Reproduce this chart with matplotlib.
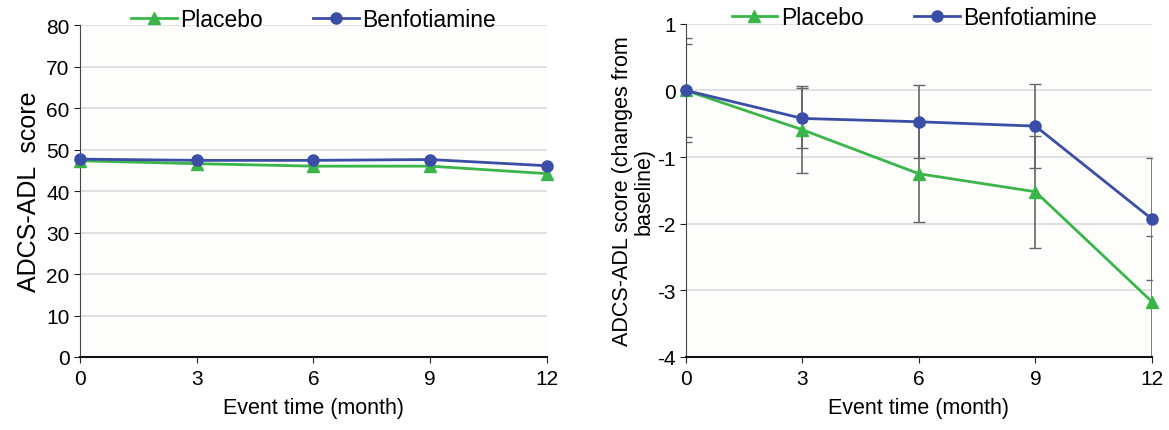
import matplotlib
matplotlib.use("Agg")
import matplotlib.pyplot as plt
import numpy as np

plt.rcParams['font.family'] = ['Liberation Sans', 'DejaVu Sans']
plt.rcParams['axes.unicode_minus'] = False

months = [0, 3, 6, 9, 12]

# absolute ADCS-ADL score
placebo_abs = [47.3, 46.6, 46.0, 46.0, 44.2]
benfo_abs = [47.7, 47.4, 47.4, 47.6, 46.1]

# change from baseline, with error bars
placebo_chg = [0.0, -0.59, -1.25, -1.52, -3.17]
placebo_err = [0.78, 0.65, 0.73, 0.84, 0.99]
benfo_chg = [0.0, -0.42, -0.47, -0.535, -1.93]
benfo_err = [0.70, 0.45, 0.55, 0.63, 0.91]

green = '#3bb54a'
blue = '#3b4ea6'
grid_c = '#dcdcdc'

fig = plt.figure(figsize=(11.69, 4.31), dpi=100)
ax1 = fig.add_axes([0.0684, 0.1694, 0.3995, 0.770])
ax2 = fig.add_axes([0.5868, 0.1694, 0.3986, 0.773])


def style(ax):
    ax.set_facecolor('#fdfdfb')
    ax.spines['top'].set_visible(False)
    ax.spines['right'].set_visible(False)
    ax.spines['left'].set_color('#444444')
    ax.spines['bottom'].set_color('#111111')
    ax.spines['bottom'].set_linewidth(1.5)
    ax.set_xlim(0, 12)
    ax.set_xticks(months)
    ax.tick_params(axis='both', labelsize=15, direction='out', length=4, color='#222222')
    ax.tick_params(axis='x', pad=5)
    ax.set_xlabel('Event time (month)', fontsize=15.5, labelpad=6)
    ax.yaxis.grid(True, color=grid_c, linewidth=1.2)
    ax.set_axisbelow(True)


leg_kw = dict(loc='upper center', ncol=2, frameon=False, fontsize=16.5,
              handlelength=2.0, handletextpad=0.15, columnspacing=2.2)

# left panel
style(ax1)
ax1.set_ylim(0, 80)
ax1.set_yticks(range(0, 81, 10))
ax1.plot(months, placebo_abs, color=green, lw=2, marker='^', ms=8, label='Placebo', clip_on=False, zorder=3)
ax1.plot(months, benfo_abs, color=blue, lw=2, marker='o', ms=8, label='Benfotiamine', clip_on=False, zorder=4)
ax1.set_ylabel('ADCS-ADL  score', fontsize=18, labelpad=4)
ax1.legend(bbox_to_anchor=(0.50, 1.115), **leg_kw)

# right panel
style(ax2)
ax2.set_ylim(-4, 1)
ax2.set_yticks(range(-4, 2))
ax2.errorbar(months, placebo_chg, yerr=placebo_err, fmt='none', ecolor='#666666',
             elinewidth=1.2, capsize=4, zorder=2)
ax2.errorbar(months, benfo_chg, yerr=benfo_err, fmt='none', ecolor='#666666',
             elinewidth=1.2, capsize=4, zorder=2)
ax2.plot(months, placebo_chg, color=green, lw=2, marker='^', ms=8, label='Placebo', clip_on=False, zorder=3)
ax2.plot(months, benfo_chg, color=blue, lw=2, marker='o', ms=8, label='Benfotiamine', clip_on=False, zorder=4)
ax2.set_ylabel('ADCS-ADL score (changes from\nbaseline)', fontsize=15.5, labelpad=2, linespacing=1.0)
ax2.legend(bbox_to_anchor=(0.49, 1.115), **leg_kw)

fig.savefig('out.png', dpi=100)
